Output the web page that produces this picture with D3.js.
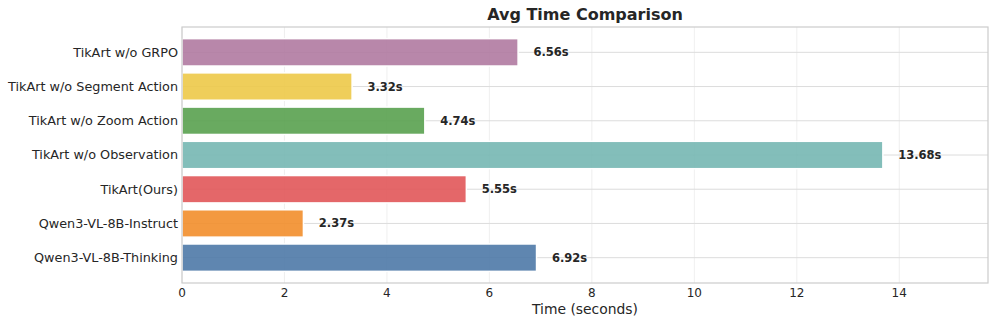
<!DOCTYPE html>
<html>
<head>
<meta charset="utf-8">
<script src="https://cdn.jsdelivr.net/npm/d3@7"></script>
<style>
  body { margin: 0; background: #fff; }
  svg { font-family: "DejaVu Sans", sans-serif; }
</style>
</head>
<body>
<div id="chart"></div>
<script>
// data, top to bottom as drawn
var categories = [
  'TikArt w/o GRPO',
  'TikArt w/o Segment Action',
  'TikArt w/o Zoom Action',
  'TikArt w/o Observation',
  'TikArt(Ours)',
  'Qwen3-VL-8B-Instruct',
  'Qwen3-VL-8B-Thinking'
];
var times = [6.56, 3.32, 4.74, 13.68, 5.55, 2.37, 6.92];
var colors = ['#b07aa1', '#edc948', '#59a14f', '#76b7b2', '#e15759', '#f28e2b', '#4e79a7'];
var xTicks = [0, 2, 4, 6, 8, 10, 12, 14];

var W = 997, H = 325;
var margin = {top: 27, right: 9, bottom: 42, left: 182};
var cw = W - margin.left - margin.right;
var ch = H - margin.top - margin.bottom;

var svg = d3.select('#chart').append('svg')
    .attr('width', W)
    .attr('height', H);

var g = svg.append('g')
    .attr('transform', 'translate(' + margin.left + ',' + margin.top + ')');

var xMax = d3.max(times) * 1.15;
var x = d3.scaleLinear().domain([0, xMax]).range([0, cw]);

// matplotlib-like y limits: bars height 0.8, 5% margins
var n = categories.length;
var lo = -0.4, hi = n - 1 + 0.4, pad = (hi - lo) * 0.05;
var y = d3.scaleLinear().domain([lo - pad, hi + pad]).range([0, ch]);
var barH = y(0.8) - y(0);

// vertical grid
g.append('g').selectAll('line')
    .data(xTicks)
    .enter().append('line')
    .attr('x1', function(d){ return x(d); })
    .attr('x2', function(d){ return x(d); })
    .attr('y1', 0).attr('y2', ch)
    .style('stroke', '#ebebeb')
    .style('stroke-width', 0.8);

// horizontal grid at bar centres
g.append('g').selectAll('line')
    .data(categories)
    .enter().append('line')
    .attr('x1', 0).attr('x2', cw)
    .attr('y1', function(d, i){ return y(i); })
    .attr('y2', function(d, i){ return y(i); })
    .style('stroke', '#dcdcdc')
    .style('stroke-width', 1);

// bars
g.append('g').selectAll('rect')
    .data(times)
    .enter().append('rect')
    .attr('x', x(0))
    .attr('y', function(d, i){ return y(i) - barH / 2; })
    .attr('width', function(d){ return x(d) - x(0); })
    .attr('height', barH)
    .style('fill', function(d, i){ return colors[i]; })
    .style('fill-opacity', 0.9)
    .style('stroke', '#fff')
    .style('stroke-width', 1.5);

// value labels
g.append('g').selectAll('text')
    .data(times)
    .enter().append('text')
    .attr('x', function(d){ return x(d + 0.3); })
    .attr('y', function(d, i){ return y(i); })
    .attr('dy', '0.35em')
    .style('font-size', '11.5px')
    .style('font-weight', 'bold')
    .style('fill', '#262626')
    .text(function(d){ return d.toFixed(2) + 's'; });

// frame
g.append('rect')
    .attr('x', 0).attr('y', 0)
    .attr('width', cw).attr('height', ch)
    .style('fill', 'none')
    .style('stroke', '#cccccc')
    .style('stroke-width', 1.2);

// y tick labels
g.append('g').selectAll('text')
    .data(categories)
    .enter().append('text')
    .attr('x', -4)
    .attr('y', function(d, i){ return y(i); })
    .attr('dy', '0.35em')
    .style('text-anchor', 'end')
    .style('font-size', '12.8px')
    .style('fill', '#262626')
    .text(function(d){ return d; });

// x tick labels
g.append('g').selectAll('text')
    .data(xTicks)
    .enter().append('text')
    .attr('x', function(d){ return x(d); })
    .attr('y', ch + 14)
    .style('text-anchor', 'middle')
    .style('font-size', '12px')
    .style('fill', '#262626')
    .text(function(d){ return d; });

// x label
g.append('text')
    .attr('x', cw / 2)
    .attr('y', ch + 31)
    .style('text-anchor', 'middle')
    .style('font-size', '13.9px')
    .style('fill', '#262626')
    .text('Time (seconds)');

// title
svg.append('text')
    .attr('x', margin.left + cw / 2)
    .attr('y', 20)
    .style('text-anchor', 'middle')
    .style('font-size', '16px')
    .style('font-weight', 'bold')
    .style('fill', '#262626')
    .text('Avg Time Comparison');
</script>
</body>
</html>
